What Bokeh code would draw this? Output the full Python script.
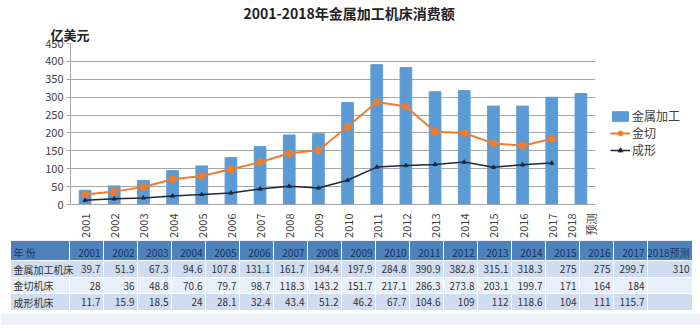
import numpy as np
from bokeh.plotting import figure
from bokeh.models import Range1d, FactorRange, Legend, LegendItem, Title, ColumnDataSource
from bokeh.embed import file_html
from bokeh.resources import INLINE
from bokeh.core.properties import value

# ---------------- data ----------------
years = ["2001", "2002", "2003", "2004", "2005", "2006", "2007", "2008", "2009",
         "2010", "2011", "2012", "2013", "2014", "2015", "2016", "2017", "2018预测"]
x_labels = ["2001", "2002", "2003", "2004", "2005", "2006", "2007", "2008", "2009",
            "2010", "2011", "2012", "2013", "2014", "2015", "2016", "2017", "2018\n预测"]
metal = [39.7, 51.9, 67.3, 94.6, 107.8, 131.1, 161.7, 194.4, 197.9,
         284.8, 390.9, 382.8, 315.1, 318.3, 275, 275, 299.7, 310]
cut = [28, 36, 48.8, 70.6, 79.7, 98.7, 118.3, 143.2, 151.7,
       217.1, 286.3, 273.8, 203.1, 199.7, 171, 164, 184]
form = [11.7, 15.9, 18.5, 24, 28.1, 32.4, 43.4, 51.2, 46.2,
        67.7, 104.6, 109, 112, 118.6, 104, 111, 115.7]
series_names = ["金属加工", "金切", "成形"]
row_names = ["金属加工机床", "金切机床", "成形机床"]
header_first = "年 份"
title_text = "2001-2018年金属加工机床消费额"
unit_text = "亿美元"

FONT = "Noto Sans CJK SC"
BLUE = "#5b9bd5"
ORANGE = "#ed7d31"
DARK = "#1e2836"
GRID = "#a6a6a6"
TXT = "#404040"

# ---------------- chart ----------------
p = figure(frame_width=525, frame_height=161, x_range=FactorRange(*x_labels), y_range=Range1d(0, 450),
           output_backend="svg", toolbar_location=None,
           min_border_left=70, min_border_right=105, min_border_top=40, min_border_bottom=36)
p.outline_line_color = None
p.background_fill_color = "white"
p.border_fill_color = "white"
p.xgrid.grid_line_color = None
p.ygrid.grid_line_color = GRID
p.ygrid.grid_line_width = 1
p.yaxis.ticker = list(range(0, 451, 50))
p.yaxis.axis_line_color = GRID
p.yaxis.major_tick_line_color = GRID
p.yaxis.major_tick_out = 4
p.yaxis.major_tick_in = 0
p.yaxis.minor_tick_line_color = None
p.yaxis.major_label_text_font = FONT
p.yaxis.major_label_text_font_size = "11px"
p.yaxis.major_label_text_color = TXT
p.yaxis.major_label_standoff = 3
p.xaxis.axis_line_color = GRID
p.xaxis.major_tick_line_color = None
p.xaxis.major_label_orientation = np.pi / 2
p.xaxis.major_label_text_font = FONT
p.xaxis.major_label_text_font_size = "11px"
p.xaxis.major_label_text_color = TXT
p.xaxis.major_label_standoff = 3

# main title (outer) and unit text (next to the frame)
p.title.text = title_text
p.title.align = "left"
p.title.offset = 173
p.title.standoff = 0
p.title.text_font = FONT
p.title.text_font_size = "14px"
p.title.text_font_style = "bold"
p.title.text_color = "#222222"
p.add_layout(Title(text=unit_text, align="left", offset=-20, standoff=0, text_font=FONT,
                   text_font_size="13px", text_font_style="bold", text_color="#222222"), "above")

bars = p.vbar(x=x_labels, top=metal, width=0.4, color=BLUE)
l1 = p.line(x=x_labels[:len(cut)], y=cut, color=ORANGE, line_width=2)
s1 = p.scatter(x=x_labels[:len(cut)], y=cut, marker="circle", size=7, color=ORANGE)
l2 = p.line(x=x_labels[:len(form)], y=form, color=DARK, line_width=1.5)
s2 = p.scatter(x=x_labels[:len(form)], y=form, marker="triangle", size=4, color=DARK)

legend = Legend(items=[LegendItem(label=series_names[0], renderers=[bars]),
                       LegendItem(label=series_names[1], renderers=[l1, s1]),
                       LegendItem(label=series_names[2], renderers=[l2, s2])],
                location=(15, 46), border_line_color=None, background_fill_alpha=0,
                label_text_font=FONT, label_text_font_size="12px", label_text_color=TXT,
                glyph_width=20, glyph_height=12, spacing=0, label_standoff=2, padding=0, margin=0)
p.add_layout(legend, "right")

# ---------------- table ----------------
t = figure(width=700, height=85, x_range=Range1d(0, 700), y_range=Range1d(85, 0),
           output_backend="svg", toolbar_location=None, min_border=0,
           x_axis_location=None, y_axis_location=None)
t.outline_line_color = None
t.grid.visible = False
t.background_fill_color = "white"
t.border_fill_color = "white"

t.quad(left=[0], right=[700], top=[73], bottom=[85], fill_color="#eef2f7", line_color=None)

first_w, col_w, last_w, x0 = 59, 34, 45, 10
n = len(years)
lefts = [x0] + [x0 + first_w + col_w * i for i in range(n)]
rights = [x0 + first_w] + [x0 + first_w + col_w * (i + 1) for i in range(n - 1)] + [x0 + first_w + col_w * (n - 1) + last_w]
row_tops = [0, 20, 37, 53]
row_bots = [20, 37, 53, 70]
row_fill = ["#4f81bd", "#d0dcef", "#e9eff8", "#d0dcef"]

table_rows = [[header_first] + years]
for name, vals in zip(row_names, [metal, cut, form]):
    cells = [name] + [f"{v:g}" for v in vals] + [""] * (n - len(vals))
    table_rows.append(cells)

ql, qr, qt, qb, qc = [], [], [], [], []
tx, ty, tt, ta, tcol = [], [], [], [], []
for r, cells in enumerate(table_rows):
    for c, txt in enumerate(cells):
        ql.append(lefts[c]); qr.append(rights[c]); qt.append(row_tops[r]); qb.append(row_bots[r])
        qc.append(row_fill[r])
        if c == 0:
            tx.append(lefts[c] + 3); ta.append("left")
        else:
            tx.append(rights[c] - 3); ta.append("right")
        ty.append((row_tops[r] + row_bots[r]) / 2 + (2 if r == 0 else 0))
        tt.append(txt)
        tcol.append("#16365c" if r == 0 else "#333333")

t.quad(left=ql, right=qr, top=qt, bottom=qb, fill_color=qc, line_color="white", line_width=1)
src = ColumnDataSource(dict(x=tx, y=ty, text=tt, align=ta, color=tcol))
t.text(x="x", y="y", text="text", source=src, text_align="align", text_baseline="middle",
       text_font=value(FONT), text_font_size="10px", text_color="color")

open("out.html", "w").write(file_html([p, t], INLINE))
